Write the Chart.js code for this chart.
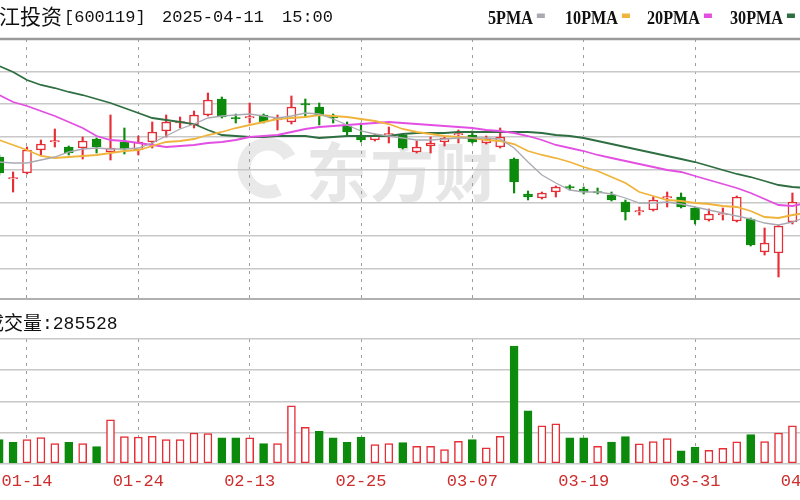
<!DOCTYPE html>
<html><head><meta charset="utf-8">
<script src="https://cdn.jsdelivr.net/npm/chart.js@4.4.1/dist/chart.umd.min.js"></script>
<style>
html,body{margin:0;padding:0;background:#fff;overflow:hidden;width:800px;height:500px;}
#wrap{position:relative;width:800px;height:500px;overflow:hidden;background:#fff;}
#pc{position:absolute;left:-40px;top:0;}
#vc{position:absolute;left:-40px;top:300px;}
</style></head><body>
<div id="wrap">
<canvas id="pc" width="900" height="300"></canvas>
<canvas id="vc" width="900" height="200"></canvas>
</div>
<script>
// ---------------- data ----------------
const stockName = '长江投资', stockCode = '600119', quoteDate = '2025-04-11', quoteTime = '15:00';
const volumeLabel = '成交量';
const watermark = '东方财';
const dates = ['01-10','01-13','01-14','01-15','01-16','01-17','01-20','01-21','01-22','01-23',
 '01-24','01-27','02-05','02-06','02-07','02-10','02-11','02-12','02-13','02-14',
 '02-17','02-18','02-19','02-20','02-21','02-24','02-25','02-26','02-27','02-28',
 '03-03','03-04','03-05','03-06','03-07','03-10','03-11','03-12','03-13','03-14',
 '03-17','03-18','03-19','03-20','03-21','03-24','03-25','03-26','03-27','03-28',
 '03-31','04-01','04-02','04-03','04-07','04-08','04-09','04-10','04-11'];
const tickDates = ['01-14','01-24','02-13','02-25','03-07','03-19','03-31','04-11'];
const openP = [6.43,6.21,6.27,6.50,6.58,6.53,6.52,6.61,6.48,6.58,
 6.50,6.58,6.69,6.77,6.75,6.85,7.01,6.82,6.82,6.85,
 6.80,6.78,6.96,6.93,6.83,6.74,6.64,6.60,6.65,6.65,
 6.48,6.54,6.58,6.65,6.65,6.57,6.53,6.41,6.06,6.02,
 6.08,6.13,6.11,6.08,6.05,5.98,5.88,5.90,6.02,6.03,
 5.92,5.80,5.85,5.79,5.81,5.48,5.47,5.78,5.98];
const highP = [6.45,6.28,6.53,6.60,6.71,6.54,6.63,6.62,6.85,6.72,
 6.64,6.78,6.85,6.83,6.89,7.07,7.03,6.86,6.97,6.86,
 6.85,7.04,7.01,6.97,6.86,6.78,6.77,6.66,6.73,6.66,
 6.59,6.63,6.63,6.70,6.69,6.64,6.72,6.42,6.09,6.08,
 6.14,6.15,6.13,6.12,6.08,6.00,5.93,6.03,6.08,6.07,
 5.93,5.91,5.92,6.04,5.82,5.72,5.75,6.07,6.15];
const lowP = [6.25,6.08,6.26,6.45,6.53,6.45,6.41,6.47,6.40,6.46,
 6.45,6.52,6.63,6.72,6.72,6.84,6.82,6.77,6.77,6.77,
 6.70,6.76,6.83,6.75,6.77,6.64,6.58,6.59,6.57,6.51,
 6.47,6.47,6.54,6.57,6.57,6.56,6.52,6.07,6.00,6.01,
 6.03,6.10,6.06,6.06,5.99,5.80,5.85,5.89,5.93,5.92,
 5.76,5.79,5.80,5.78,5.54,5.45,5.23,5.76,5.95];
const closeP = [6.27,6.22,6.50,6.56,6.59,6.47,6.59,6.53,6.52,6.51,
 6.58,6.68,6.78,6.78,6.85,7.00,6.83,6.81,6.83,6.78,
 6.81,6.93,6.95,6.85,6.82,6.68,6.60,6.65,6.66,6.52,
 6.53,6.57,6.62,6.66,6.58,6.61,6.63,6.18,6.03,6.07,
 6.13,6.12,6.08,6.07,6.00,5.88,5.89,6.00,6.03,5.93,
 5.80,5.86,5.86,6.03,5.55,5.57,5.74,5.98,6.10];
const ma5 = [6.38,6.37,6.37,6.40,6.43,6.48,6.51,6.52,6.51,6.51,
 6.52,6.57,6.64,6.71,6.76,6.82,6.84,6.85,6.86,6.84,
 6.82,6.84,6.87,6.86,6.81,6.75,6.69,6.66,6.64,6.62,
 6.60,6.60,6.61,6.62,6.62,6.62,6.61,6.52,6.38,6.25,
 6.17,6.10,6.08,6.08,6.06,6.02,5.97,5.97,5.98,5.96,
 5.93,5.90,5.87,5.84,5.81,5.77,5.75,5.78,5.83];
const ma10 = [6.60,6.55,6.50,6.44,6.42,6.43,6.44,6.45,6.47,6.49,
 6.50,6.54,6.58,6.59,6.61,6.65,6.68,6.72,6.75,6.78,
 6.81,6.82,6.83,6.85,6.84,6.83,6.81,6.79,6.76,6.71,
 6.68,6.66,6.64,6.63,6.62,6.60,6.59,6.56,6.49,6.45,
 6.42,6.38,6.33,6.29,6.23,6.17,6.08,6.04,6.00,5.99,
 5.97,5.96,5.94,5.93,5.89,5.83,5.82,5.85,5.87];
const ma20 = [7.05,6.98,6.94,6.89,6.84,6.78,6.72,6.64,6.60,6.59,
 6.57,6.55,6.53,6.54,6.55,6.57,6.58,6.60,6.63,6.64,
 6.65,6.68,6.71,6.73,6.74,6.75,6.76,6.77,6.78,6.77,
 6.76,6.75,6.74,6.73,6.72,6.70,6.69,6.67,6.64,6.60,
 6.55,6.52,6.49,6.45,6.42,6.39,6.36,6.33,6.30,6.28,
 6.24,6.20,6.16,6.12,6.07,6.01,5.95,5.94,5.97];
const ma30 = [7.34,7.28,7.20,7.15,7.12,7.08,7.05,7.01,6.97,6.92,
 6.87,6.82,6.80,6.78,6.76,6.70,6.65,6.64,6.63,6.63,
 6.64,6.64,6.64,6.62,6.63,6.64,6.64,6.64,6.64,6.66,
 6.67,6.67,6.67,6.68,6.68,6.68,6.68,6.68,6.68,6.67,
 6.65,6.64,6.62,6.59,6.56,6.53,6.50,6.47,6.44,6.41,
 6.38,6.34,6.30,6.26,6.23,6.19,6.15,6.13,6.12];
const volume = [180000,160000,180000,195000,150000,160000,150000,127500,330000,202500,
 200000,205000,180000,180000,230000,225000,193000,193000,193000,150000,
 150000,435000,272000,242000,193000,160000,200000,142500,150000,157500,
 130000,130000,105000,167000,180000,118000,205000,885000,397500,285000,
 300000,193000,193000,130000,161000,202500,148500,165000,189000,96000,
 125000,100000,115000,163500,217500,165000,230000,285000,285528];
const volumeUp = [0,0,1,1,1,0,1,0,1,1,
 1,1,1,1,1,1,0,0,1,0,
 1,1,1,0,0,0,0,1,1,0,
 1,1,1,1,0,1,1,0,0,1,
 1,0,0,1,0,0,1,1,1,0,
 0,1,1,1,0,1,1,1,1];
const maLabels = ['5PMA','10PMA','20PMA','30PMA'];
const priceGrid = [7.28,6.96,6.63,6.30,5.97,5.64,5.31];
const volumeGrid = [0,234375,468750,703125,937500];

// ---------------- styles ----------------
const RED = '#e62e36', GREEN = '#0b8a0b';
const MA_COLORS = ['#a9a9b2','#f0b43c','#e24fe2','#2f6e40'];
const GRID = '#c8c8c8', VGRID = '#9c9c9c';
const OX = 40; // canvas offset (canvas starts 40px left of page)
const up = closeP.map((c,i)=> c >= openP[i]);
const tickIdx = tickDates.map(d => dates.indexOf(d));

function xScale(showLabels){
  return {
    type:'linear', min:-2.814, max:61.855, offset:false,
    grid:{display:true, drawOnChartArea:true, offset:false, color:VGRID, lineWidth:1, drawTicks:false},
    border:{display:false, dash:[3,5]},
    afterBuildTicks: s => { s.ticks = tickIdx.map(v=>({value:v})); },
    ticks:{display:showLabels, autoSkip:false, maxRotation:0, minRotation:0, padding:8,
      color:'#cc2d2d', font:{family:'"Liberation Mono", monospace', size:17},
      callback:(v)=>dates[v]}
  };
}

const pricePlugin = {
  id:'priceDecor',
  beforeDraw(chart){
    const ctx = chart.ctx;
    ctx.save();
    ctx.fillStyle = '#ffffff';
    ctx.fillRect(0,0,chart.width,chart.height);
    // watermark
    ctx.strokeStyle = '#e9e9e9';
    ctx.lineWidth = 13;
    ctx.beginPath();
    ctx.arc(268+OX, 168, 24, 0.35*Math.PI, 1.85*Math.PI);
    ctx.stroke();
    ctx.fillStyle = '#e6e6e6';
    ctx.font = 'bold 64px "Noto Sans CJK SC"';
    ctx.textBaseline = 'middle';
    ctx.fillText(watermark, 306+OX, 172);
    ctx.restore();
  },
  afterDraw(chart){
    const ctx = chart.ctx, a = chart.chartArea;
    ctx.save();
    // frame lines
    ctx.strokeStyle = '#9a9a9a'; ctx.lineWidth = 2.5;
    ctx.beginPath(); ctx.moveTo(0, a.top); ctx.lineTo(chart.width, a.top); ctx.stroke();
    ctx.strokeStyle = '#b0b0b0'; ctx.lineWidth = 2;
    ctx.beginPath(); ctx.moveTo(0, a.bottom); ctx.lineTo(chart.width, a.bottom); ctx.stroke();
    // title
    ctx.fillStyle = '#111';
    ctx.textBaseline = 'middle';
    ctx.font = '21px "Noto Sans CJK SC"';
    ctx.fillText(stockName, -22+OX, 16);
    ctx.font = '17px "Liberation Mono", monospace';
    ctx.fillText('[' + stockCode + ']', 64+OX, 17);
    ctx.fillText(quoteDate, 162+OX, 17);
    ctx.fillText(quoteTime, 282+OX, 17);
    // legend
    const starts = [488,565,647,730];
    ctx.font = 'bold 19px "Liberation Serif", serif';
    ctx.textBaseline = 'alphabetic';
    maLabels.forEach((lab,k)=>{
      const w = ctx.measureText(lab).width*0.85;
      ctx.save();
      ctx.translate(starts[k]+OX, 23.5);
      ctx.scale(0.85,1);
      ctx.fillStyle = '#111';
      ctx.fillText(lab, 0, 0);
      ctx.restore();
      ctx.fillStyle = MA_COLORS[k];
      ctx.fillRect(starts[k]+OX+w+4, 13.5, 8, 4.5);
    });
    ctx.restore();
  }
};

const volPlugin = {
  id:'volDecor',
  beforeDraw(chart){
    const ctx = chart.ctx;
    ctx.save(); ctx.fillStyle='#fff'; ctx.fillRect(0,0,chart.width,chart.height); ctx.restore();
  },
  afterDraw(chart){
    const ctx = chart.ctx;
    ctx.save();
    ctx.fillStyle = '#111';
    ctx.textBaseline = 'middle';
    ctx.font = '19px "Noto Sans CJK SC"';
    ctx.fillText(volumeLabel, -15+OX, 23);
    ctx.font = '18px "Liberation Mono", monospace';
    ctx.fillText(':' + volume[volume.length-1], 42+OX, 24);
    ctx.restore();
  }
};

const lineDs = (vals, k) => ({
  type:'line', label:maLabels[k], data: vals.map((v,i)=>({x:i,y:v})),
  borderColor:MA_COLORS[k], borderWidth: k===0 ? 1.3 : 1.8, pointRadius:0, tension:0, order:0
});

new Chart(document.getElementById('pc'), {
  type:'bar',
  data:{ datasets:[
    { label:'wick', data: dates.map((d,i)=>({x:i, y:[lowP[i], highP[i]]})),
      backgroundColor: up.map(u=> u?RED:GREEN), barThickness:1.5, grouped:false, order:2 },
    { label:'body', data: dates.map((d,i)=>({x:i, y:[openP[i], closeP[i]]})),
      backgroundColor: up.map(u=> u?'#ffffff':GREEN), borderColor: up.map(u=> u?RED:GREEN),
      borderWidth:1.5, borderSkipped:false, barThickness:9, minBarLength:1.5, grouped:false, order:1 },
    lineDs(ma5,0), lineDs(ma10,1), lineDs(ma20,2), lineDs(ma30,3)
  ]},
  options:{
    responsive:false, animation:false, devicePixelRatio:1, events:[],
    layout:{padding:{top:39,bottom:1,left:0,right:0}},
    plugins:{legend:{display:false}, tooltip:{enabled:false}, title:{display:false}},
    scales:{
      x: xScale(false),
      y:{type:'linear', min:5.01, max:7.61,
        grid:{color:GRID, lineWidth:1.5, drawTicks:false}, border:{display:false},
        ticks:{display:false},
        afterBuildTicks: s => { s.ticks = priceGrid.map(v=>({value:v})); }}
    }
  },
  plugins:[pricePlugin]
});

new Chart(document.getElementById('vc'), {
  type:'bar',
  data:{ datasets:[
    { label:volumeLabel, data: volume.map((v,i)=>({x:i,y:v})),
      backgroundColor: volumeUp.map(u=> u?'#ffffff':GREEN), borderColor: volumeUp.map(u=> u?RED:GREEN),
      borderWidth:1.5, borderSkipped:false, barThickness:8, grouped:false }
  ]},
  options:{
    responsive:false, animation:false, devicePixelRatio:1, events:[],
    layout:{padding:{top:39,bottom:0,left:0,right:0}},
    plugins:{legend:{display:false}, tooltip:{enabled:false}},
    scales:{
      x: xScale(true),
      y:{type:'linear', min:0, max:937500,
        grid:{color:GRID, lineWidth:1.5, drawTicks:false}, border:{display:false},
        ticks:{display:false},
        afterBuildTicks: s => { s.ticks = volumeGrid.map(v=>({value:v})); }}
    }
  },
  plugins:[volPlugin]
});
</script>
</body></html>
